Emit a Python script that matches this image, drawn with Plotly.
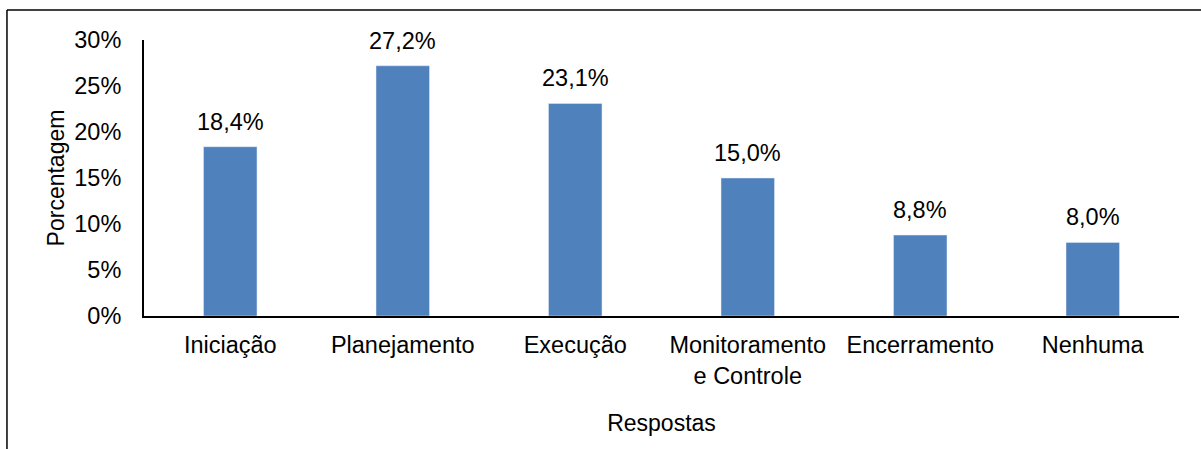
import plotly.graph_objects as go

categorias = ["Iniciação", "Planejamento", "Execução", "Monitoramento<br>e Controle", "Encerramento", "Nenhuma"]
porcentagens = [0.184, 0.272, 0.231, 0.150, 0.088, 0.080]
ticks_y = [0, 0.05, 0.10, 0.15, 0.20, 0.25, 0.30]

FONTE = "Liberation Sans, Arial, sans-serif"
TAM = 23.5

fig = go.Figure(
    go.Bar(
        x=categorias,
        y=porcentagens,
        marker_color="#4F81BD",
        width=0.31,
    )
)

# rótulos de dados acima das barras (vírgula decimal)
for cat, val in zip(categorias, porcentagens):
    fig.add_annotation(
        x=cat, y=val, yanchor="bottom", yshift=10, showarrow=False,
        text=f"{val * 100:.1f}%".replace(".", ","),
        font=dict(size=TAM, color="black"),
    )

fig.update_layout(
    width=1201,
    height=449,
    margin=dict(l=144, r=22, t=40, b=133),
    plot_bgcolor="white",
    paper_bgcolor="white",
    separators=",.",
    showlegend=False,
    font=dict(family=FONTE, size=TAM, color="black"),
)

fig.update_yaxes(
    range=[0, 0.30],
    tickvals=ticks_y,
    tickformat=".0%",
    tickfont=dict(size=TAM),
    showgrid=False,
    zeroline=False,
    showline=True,
    linecolor="black",
    linewidth=2,
    ticks="",
    ticklabelstandoff=16,
    title=dict(text="Porcentagem", standoff=3, font=dict(size=23)),
)
fig.update_xaxes(
    tickfont=dict(size=TAM),
    showgrid=False,
    showline=True,
    linecolor="black",
    linewidth=2,
    ticks="",
    ticklabelstandoff=7,
    title=dict(text="Respostas", standoff=27, font=dict(size=23)),
)

# moldura cortada (borda da imagem original)
fig.add_shape(type="line", xref="paper", yref="paper",
              x0=-0.1324, x1=1.05, y0=1.1087, y1=1.1087,
              line=dict(color="black", width=1.5))
fig.add_shape(type="line", xref="paper", yref="paper",
              x0=-0.1324, x1=-0.1324, y0=1.1087, y1=-0.5,
              line=dict(color="black", width=1.5))

fig.write_html("out.html", config={"displayModeBar": False},
               post_script="document.body.style.margin='0';")
